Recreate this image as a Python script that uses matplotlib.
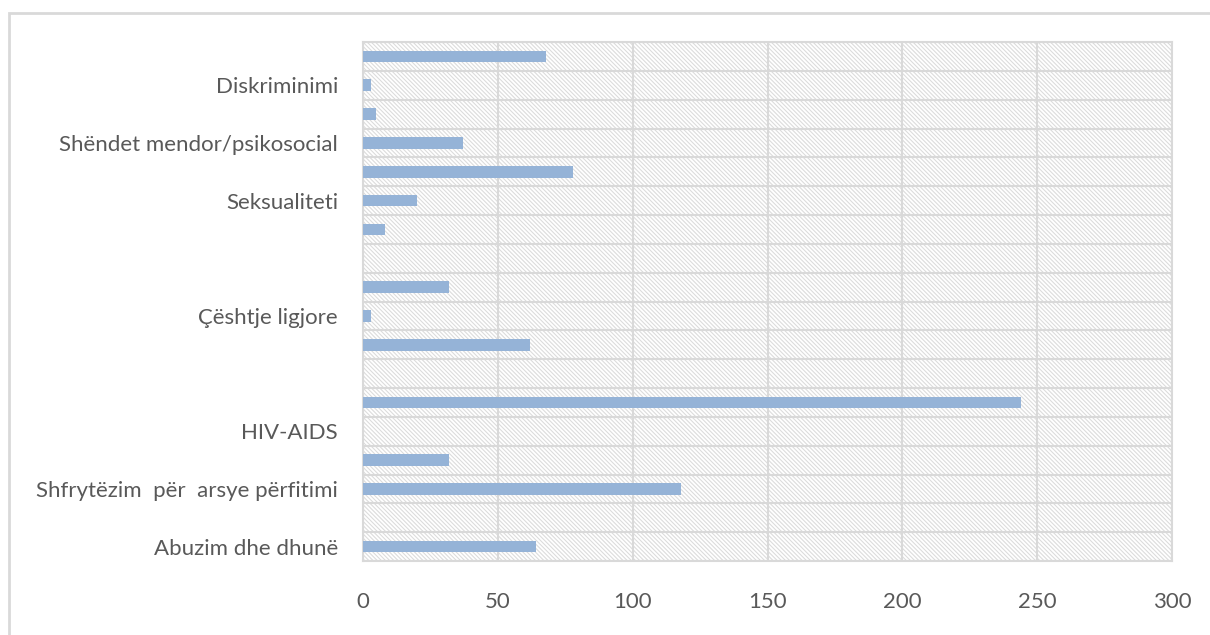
import numpy as np
import matplotlib
matplotlib.use("Agg")
import matplotlib.pyplot as plt
from matplotlib.patches import Rectangle

# categories from bottom to top; Excel only shows every second label
labels = ["Abuzim dhe dhunë", "", "Shfrytëzim  për  arsye përfitimi", "",
          "HIV-AIDS", "", "", "", "Çështje ligjore", "", "", "",
          "Seksualiteti", "", "Shëndet mendor/psikosocial", "",
          "Diskriminimi", ""]
values = [64, 0, 118, 32, 0, 244, 0, 62, 3, 32, 0, 8, 20, 78, 37, 5, 3, 68]
x_ticks = [0, 50, 100, 150, 200, 250, 300]

bar_color = "#95b3d7"
grid_color = "#d9d9d9"
text_color = "#595959"

plt.rcParams['font.family'] = ['Lato', 'DejaVu Sans']
plt.rcParams['hatch.linewidth'] = 0.8

fig = plt.figure(figsize=(12.1, 6.35), dpi=100)
ax = fig.add_axes([363/1210, 74/635, (1172-363)/1210, (561-42)/635])

# hatched plot background
bg = Rectangle((0, 0), 1, 1, transform=ax.transAxes, facecolor="white",
               edgecolor="#dcdcdc", linewidth=0, hatch="\\" * 8, zorder=0)
ax.add_patch(bg)

y = np.arange(len(values))
ax.barh(y, values, height=0.4, color=bar_color, zorder=3)

ax.set_xlim(0, 300)
ax.set_ylim(-0.5, len(values) - 0.5)
ax.set_xticks(x_ticks)
ax.set_xticklabels([str(t) for t in x_ticks])

show = [i for i in range(len(labels)) if i % 2 == 0]
ax.set_yticks(show)
ax.set_yticklabels([labels[i] for i in show])
ax.set_yticks(np.arange(-0.5, len(values), 1), minor=True)

ax.grid(True, axis="x", which="major", color=grid_color, linewidth=1.5, zorder=1)
ax.grid(True, axis="y", which="minor", color=grid_color, linewidth=1.5, zorder=1)
ax.grid(False, axis="y", which="major")
ax.set_axisbelow(True)

ax.tick_params(axis="both", which="both", length=0, labelsize=16,
               colors=text_color)
ax.tick_params(axis="y", pad=18)
ax.tick_params(axis="x", pad=22)

for s in ax.spines.values():
    s.set_color(grid_color)
    s.set_linewidth(1.5)

# outer chart frame
frame = Rectangle((9/1210, -0.1), 1.2, (635-13)/635 + 0.1,
                  transform=fig.transFigure, fill=False,
                  edgecolor=grid_color, linewidth=2, clip_on=False)
fig.patches.append(frame)

fig.savefig("out.png", dpi=100)
